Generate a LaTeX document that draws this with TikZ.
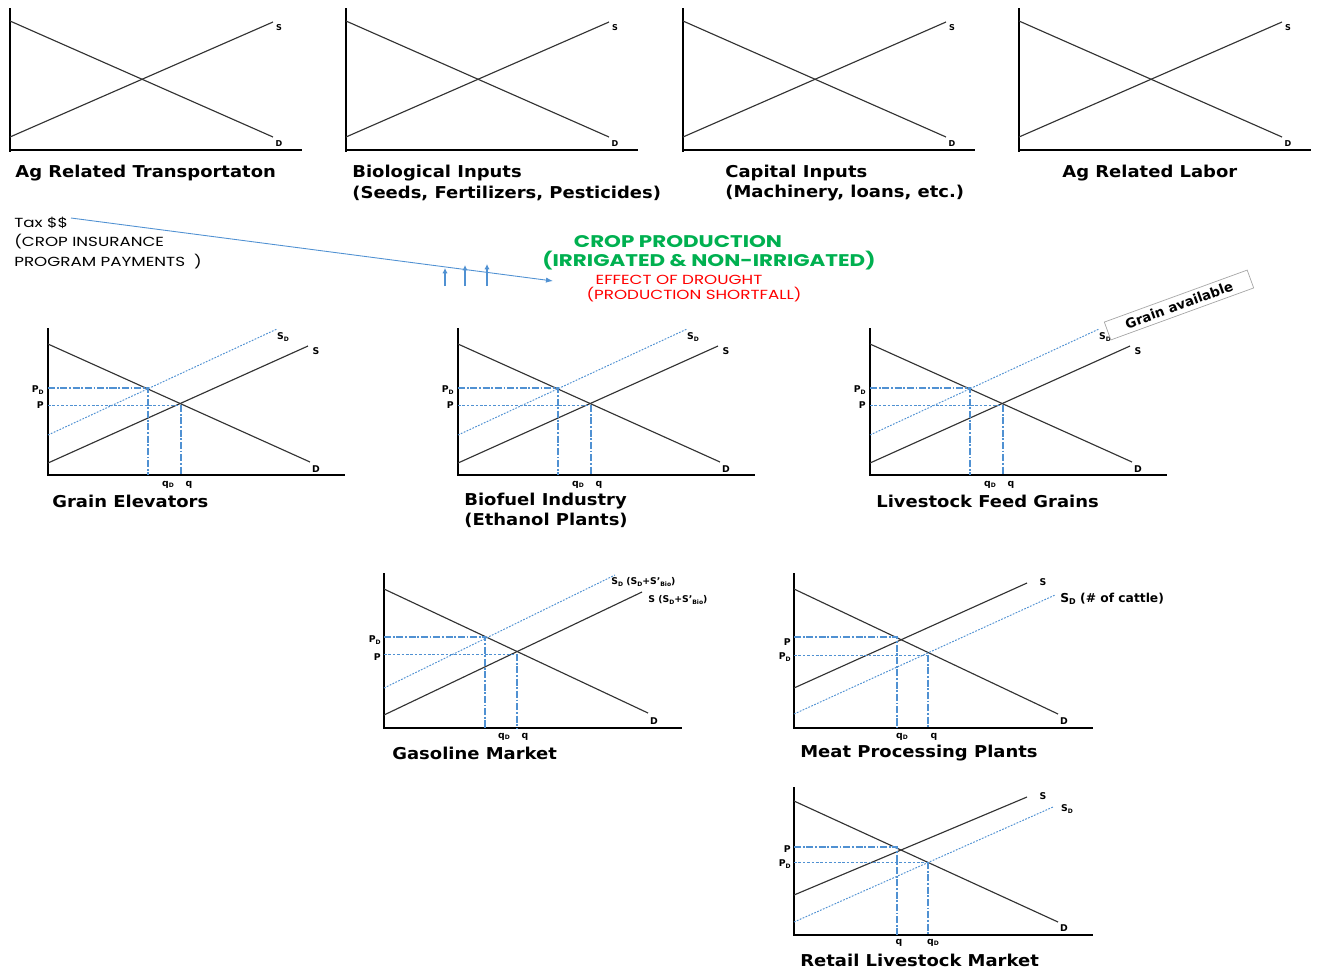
\documentclass[tikz,border=0pt]{standalone}
\usepackage{fontspec}
\setmainfont{DejaVu Sans}
\newfontfamily\tfont{DejaVu Sans}[FakeStretch=1.1]
\newfontfamily\pfont{Poppins}[FakeStretch=1.27]
\usetikzlibrary{arrows.meta}
\definecolor{lblue}{RGB}{80,145,210}
\definecolor{cgreen}{RGB}{0,176,80}
\definecolor{cred}{RGB}{255,0,0}
\newcommand{\sbs}[1]{\raisebox{-0.25ex}{\scalebox{0.65}{#1}}}
\newcommand{\midchart}[2]{%
 \begin{scope}[shift={(#1,0)}]
  \draw[axisline] (48,328) -- (48,476);
  \draw[axisline] (47,475) -- (345,475);
  \draw[curve] (48,344) -- (310,462);
  \draw[curve] (48,463) -- (308,346);
  \draw[sdcurve] (48,435) -- (277,329);
  \draw[pdguide] (48,388) -- (148,388) -- (148,475);
  \draw[pguide] (48,405) -- (181,405);
  \draw[pdguide] (181,405) -- (181,475);
  \node[mlab] (#2S) at (316,351) {S};
  \node[mlab] (#2D) at (316,469) {D};
  \node[mlab] (#2SD) at (283,337) {S\sbs{D}};
  \node[mlab,anchor=east] (#2PD) at (44,390) {P\sbs{D}};
  \node[mlab,anchor=east] (#2P) at (44,405) {P};
  \node[mlab] (#2qD) at (168,485) {q\sbs{D}};
  \node[mlab] (#2q) at (189,485) {q};
 \end{scope}}
\begin{document}
\begin{tikzpicture}[x=0.02cm,y=-0.02cm,
 axisline/.style={black,line width=0.8pt},
 curve/.style={black!80,line width=0.65pt},
 sdcurve/.style={lblue,line width=0.55pt,dash pattern=on 1pt off 0.8pt},
 pdguide/.style={lblue,line width=0.6pt,dash pattern=on 4pt off 1pt on 1pt off 1pt},
 pguide/.style={lblue,line width=0.5pt,dash pattern=on 1.5pt off 1pt},
 title/.style={anchor=west,inner sep=0,font=\tfont\bfseries\fontsize{9.3}{11}\selectfont},
 tlab/.style={inner sep=0,font=\bfseries\fontsize{4.6}{5}\selectfont},
 mlab/.style={inner sep=0,font=\bfseries\fontsize{5.3}{6}\selectfont},
 ptext/.style={anchor=west,inner sep=0,font=\pfont\fontsize{7.5}{9}\selectfont},
]
\useasboundingbox (0,0) rectangle (1321,971);
% ---------- top charts ----------
\foreach \dx/\nm in {0/a,336/b,673/c,1009/d}{
 \begin{scope}[shift={(\dx,0)}]
  \draw[axisline] (10,8) -- (10,152);
  \draw[axisline] (9,150) -- (302,150);
  \draw[curve] (10,21) -- (273,137);
  \draw[curve] (10,137) -- (273,22);
  \node[tlab] (\nm S) at (279,28) {S};
  \node[tlab] (\nm D) at (279,144) {D};
 \end{scope}}
\node[title] (t1) at (15,173) {Ag Related Transportaton};
\node[title] (t2) at (352,173) {Biological Inputs};
\node[title] (t2b) at (352,193) {(Seeds, Fertilizers, Pesticides)};
\node[title] (t3) at (725,173) {Capital Inputs};
\node[title] (t3b) at (725,193) {(Machinery, loans, etc.)};
\node[title] (t4) at (1062,173) {Ag Related Labor};
% ---------- tax / crop production ----------
\node[ptext] (tax) at (14,223) {Tax \$\$};
\node[ptext] (tax2) at (14,242) {(CROP INSURANCE};
\node[ptext] (tax3) at (14,262) {PROGRAM PAYMENTS\ \ )};
\coordinate (taxs) at (71,218);
\coordinate (taxe) at (553,281);
\draw[lblue,line width=0.5pt,-{Latex[length=4pt,width=3pt]}] (taxs) -- (taxe);
\foreach \ax/\top [count=\i] in {445/268,465/265,487/264}{
  \coordinate (ua\i) at (\ax,286);
  \coordinate (ub\i) at (\ax,\top);
  \draw[lblue,line width=0.6pt,-{Latex[length=3pt,width=3pt]}] (ua\i) -- (ub\i);
}
\node[inner sep=0,text=cgreen,font=\pfont\bfseries\fontsize{9.6}{11}\selectfont] (cp1) at (678,242) {CROP PRODUCTION};
\node[inner sep=0,text=cgreen,font=\pfont\bfseries\fontsize{9.6}{11}\selectfont] (cp2) at (709,261) {(IRRIGATED \& NON-IRRIGATED)};
\node[inner sep=0,text=cred,font=\pfont\fontsize{7.5}{9}\selectfont] (dr1) at (679,280) {EFFECT OF DROUGHT};
\node[inner sep=0,text=cred,font=\pfont\fontsize{7.5}{9}\selectfont] (dr2) at (694,295) {(PRODUCTION SHORTFALL)};
% ---------- middle charts ----------
\midchart{0}{e}
\midchart{410}{f}
\midchart{822}{g}
\node[title] (t5) at (52,501) {Grain Elevators};
\node[title] (t6) at (464,501) {Biofuel Industry};
\node[title] (t6b) at (464,520) {(Ethanol Plants)};
\node[title] (t7) at (876,501) {Livestock Feed Grains};
\node[draw=black!35,fill=white,rotate=20,minimum width=152*0.02cm,minimum height=19*0.02cm,inner sep=0,
  font=\bfseries\fontsize{7.6}{9}\selectfont] (grain) at (1179,305) {Grain available};
% ---------- gasoline ----------
\draw[axisline] (384,573) -- (384,729);
\draw[axisline] (383,728) -- (682,728);
\draw[curve] (384,589) -- (648,713);
\draw[curve] (384,715) -- (642,592);
\draw[sdcurve] (384,688) -- (615,575);
\draw[pdguide] (384,637) -- (485,637) -- (485,728);
\draw[pguide] (384,654) -- (517,654);
\draw[pdguide] (517,654) -- (517,728);
\node[mlab,anchor=west] (hSD) at (611,582) {S\sbs{D} (S\sbs{D}+S'\sbs{Bio})};
\node[mlab,anchor=west] (hS) at (648,600) {S (S\sbs{D}+S'\sbs{Bio})};
\node[mlab] (hD) at (654,721) {D};
\node[mlab,anchor=east] (hPD) at (381,640) {P\sbs{D}};
\node[mlab,anchor=east] (hP) at (381,657) {P};
\node[mlab] (hqD) at (504,737) {q\sbs{D}};
\node[mlab] (hq) at (525,737) {q};
\node[title] (t8) at (392,753) {Gasoline Market};
% ---------- meat processing ----------
\draw[axisline] (794,573) -- (794,729);
\draw[axisline] (793,728) -- (1093,728);
\draw[curve] (794,589) -- (1058,714);
\draw[curve] (794,688) -- (1027,583);
\draw[sdcurve] (794,714) -- (1055,595);
\draw[pdguide] (794,637) -- (897,637) -- (897,728);
\draw[pguide] (794,655) -- (928,655);
\draw[pdguide] (928,655) -- (928,728);
\node[mlab] (mS) at (1043,582) {S};
\node[inner sep=0,anchor=west,font=\bfseries\fontsize{7}{8}\selectfont] (mSD) at (1060,599) {S\sbs{D} (\# of cattle)};
\node[mlab] (mD) at (1064,721) {D};
\node[mlab,anchor=east] (mP) at (791,642) {P};
\node[mlab,anchor=east] (mPD) at (791,657) {P\sbs{D}};
\node[mlab] (mqD) at (902,737) {q\sbs{D}};
\node[mlab] (mq) at (934,737) {q};
\node[title] (t9) at (800,753) {Meat Processing Plants};
% ---------- retail livestock ----------
\draw[axisline] (794,787) -- (794,936);
\draw[axisline] (793,935) -- (1093,935);
\draw[curve] (794,801) -- (1058,922);
\draw[curve] (794,895) -- (1027,797);
\draw[sdcurve] (794,922) -- (1053,807);
\draw[pdguide] (794,847) -- (897,847) -- (897,935);
\draw[pguide] (794,862) -- (928,862);
\draw[pdguide] (928,862) -- (928,935);
\node[mlab] (rS) at (1043,796) {S};
\node[mlab] (rSD) at (1067,809) {S\sbs{D}};
\node[mlab] (rD) at (1064,928) {D};
\node[mlab,anchor=east] (rP) at (791,849) {P};
\node[mlab,anchor=east] (rPD) at (791,864) {P\sbs{D}};
\node[mlab] (rq) at (899,943) {q};
\node[mlab] (rqD) at (933,943) {q\sbs{D}};
\node[title] (t10) at (800,960) {Retail Livestock Market};
\end{tikzpicture}
\end{document}
